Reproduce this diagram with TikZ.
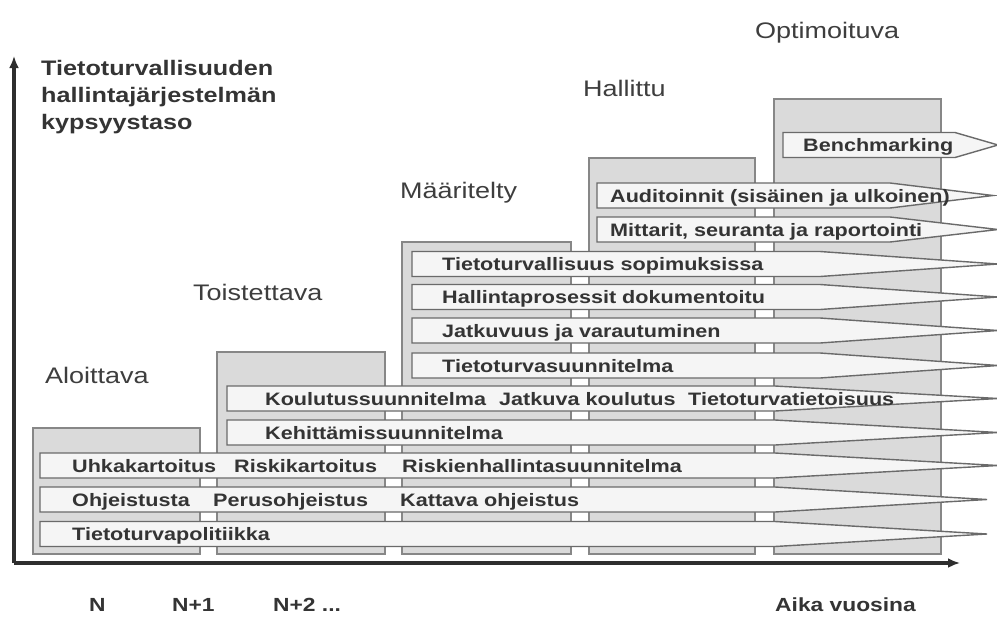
\documentclass[tikz,border=0pt]{standalone}
\usepackage{fontspec}
\usetikzlibrary{arrows.meta}
\newfontfamily\lsans{Liberation Sans}[FakeStretch=1.2]
\definecolor{inkdark}{HTML}{343434}
\definecolor{levelink}{HTML}{3E3E3E}
\definecolor{barfill}{HTML}{F5F5F5}
\definecolor{barline}{HTML}{6A6A6A}
\definecolor{boxfill}{HTML}{DADADA}
\definecolor{boxline}{HTML}{878787}
\definecolor{axisink}{HTML}{2E2E2E}

% one maturity item: rectangle from #1 with centre line #2, tapering from #3 to a point at #4
\newcommand\stagebar[4]{%
  \draw[barshape] (#1,#2-12.5) -- (#3,#2-12.5) -- (#4,#2) -- (#3,#2+12.5) -- (#1,#2+12.5) -- cycle;}

\begin{document}
\begin{tikzpicture}[x=1pt,y=-1pt,
  levelbox/.style={draw=boxline,fill=boxfill,line width=1.6pt},
  barshape/.style={draw=barline,fill=barfill,line width=1.4pt,line join=miter},
  bartext/.style={anchor=base west,inner sep=0pt,text=inkdark,font=\lsans\bfseries\fontsize{18}{20}\selectfont},
  leveltext/.style={anchor=base west,inner sep=0pt,text=levelink,font=\lsans\fontsize{22.5}{25}\selectfont},
  axistext/.style={anchor=base west,inner sep=0pt,text=inkdark,font=\lsans\bfseries\fontsize{19}{21}\selectfont},
  titletext/.style={anchor=base west,inner sep=0pt,text=inkdark,font=\lsans\bfseries\fontsize{21}{24}\selectfont},
  axisline/.style={draw=axisink,line width=3.6pt,-{Latex[length=12pt,width=10pt]}}]
\useasboundingbox[fill=white] (0,0) rectangle (997,625);

% axes
\coordinate (origin) at (14,563);
\coordinate (ytop) at (14,56);
\coordinate (xend) at (960,563);
\draw[axisline] (origin) -- (ytop);
\draw[axisline] (origin) -- (xend);

% maturity levels
\draw[levelbox] (33,428) rectangle (200,554);
\draw[levelbox] (217,352) rectangle (385,554);
\draw[levelbox] (402,242) rectangle (571,554);
\draw[levelbox] (589,158) rectangle (755,554);
\draw[levelbox] (774,99) rectangle (941,554);

\node[leveltext] (aloittava) at (45,383) {Aloittava};
\node[leveltext] (toistettava) at (193,300) {Toistettava};
\node[leveltext] (maaritelty) at (400,198) {Määritelty};
\node[leveltext] (hallittu) at (583,96) {Hallittu};
\node[leveltext] (optimoituva) at (755,38) {Optimoituva};

% items
\stagebar{40}{534}{775}{987}
\stagebar{40}{499.5}{775}{987}
\stagebar{40}{465.5}{775}{998}
\stagebar{227}{432.5}{775}{998}
\stagebar{227}{398.5}{775}{998}
\stagebar{412}{365.5}{820}{998}
\stagebar{412}{330.5}{820}{998}
\stagebar{412}{297}{820}{998}
\stagebar{412}{264}{820}{998}
\stagebar{597}{229.5}{890}{998}
\stagebar{597}{195.5}{890}{993}
\stagebar{783}{145}{955}{998}

\node[bartext] (politiikka) at (72,540.5) {Tietoturvapolitiikka};
\node[bartext] (ohjeistusta) at (72,506) {Ohjeistusta};
\node[bartext] (perusohje) at (213,506) {Perusohjeistus};
\node[bartext] (kattava) at (400,506) {Kattava ohjeistus};
\node[bartext] (uhka) at (72,472) {Uhkakartoitus};
\node[bartext] (riski) at (234,472) {Riskikartoitus};
\node[bartext] (riskienhallinta) at (402,472) {Riskienhallintasuunnitelma};
\node[bartext] (kehittamis) at (265,439) {Kehittämissuunnitelma};
\node[bartext] (koulutus) at (265,405) {Koulutussuunnitelma};
\node[bartext] (jatkuvakoulutus) at (499,405) {Jatkuva koulutus};
\node[bartext] (tietoisuus) at (688,405) {Tietoturvatietoisuus};
\node[bartext] (ttsuunnitelma) at (442,372) {Tietoturvasuunnitelma};
\node[bartext] (jatkuvuus) at (442,337) {Jatkuvuus ja varautuminen};
\node[bartext] (prosessit) at (442,303.5) {Hallintaprosessit dokumentoitu};
\node[bartext] (sopimukset) at (442,270.5) {Tietoturvallisuus sopimuksissa};
\node[bartext] (mittarit) at (610,236) {Mittarit, seuranta ja raportointi};
\node[bartext] (auditoinnit) at (610,202) {Auditoinnit (sisäinen ja ulkoinen)};
\node[bartext] (benchmarking) at (803,151.5) {Benchmarking};

% axis captions
\node[titletext] (ytitle) at (41,75) {Tietoturvallisuuden};
\node[titletext] (ytitle2) at (41,102) {hallintajärjestelmän};
\node[titletext] (ytitle3) at (41,129) {kypsyystaso};
\node[axistext] (tn) at (89,611) {N};
\node[axistext] (tn1) at (172,611) {N+1};
\node[axistext] (tn2) at (273,611) {N+2 ...};
\node[axistext] (aika) at (775,611) {Aika vuosina};
\end{tikzpicture}
\end{document}
